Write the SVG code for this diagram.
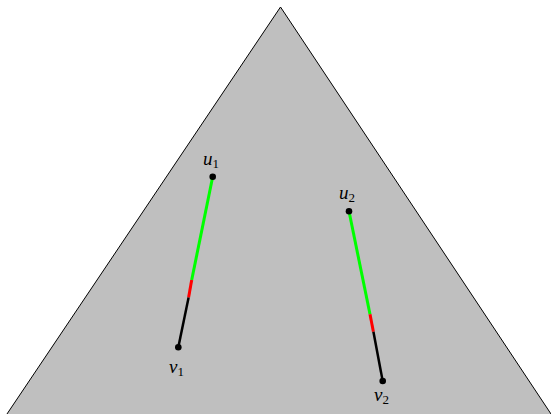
<svg xmlns="http://www.w3.org/2000/svg" width="551" height="414" viewBox="0 0 551 414">
<style>
.lbl{font-family:"Liberation Serif","DejaVu Serif",serif;font-style:italic;font-size:19px;fill:#000}
.sub{font-style:normal;font-size:13px}
.g{stroke:#00ff00;stroke-width:3;fill:none}
.r{stroke:#ff0000;stroke-width:3;fill:none}
.k{stroke:#000;stroke-width:2.5;fill:none}
</style>
<rect width="551" height="414" fill="#fff"/>
<g id="triangle"><polygon points="280.5,7 6.3,415 551.7,415" fill="#bfbfbf" stroke="#000" stroke-width="1"/></g>
<g id="connectors">
<line class="g" x1="212.7" y1="176.7" x2="191.7" y2="280"/>
<line class="r" x1="191.7" y1="280" x2="188.6" y2="297.5"/>
<line class="k" x1="188.6" y1="297.5" x2="178.3" y2="347.3"/>
<line class="g" x1="349" y1="211.3" x2="370" y2="314.3"/>
<line class="r" x1="370" y1="314.3" x2="373.4" y2="331.7"/>
<line class="k" x1="373.4" y1="331.7" x2="382.7" y2="381"/>
</g>
<g id="u1"><circle cx="212.7" cy="176.7" r="3.3"/><text class="lbl" x="203" y="165">u<tspan class="sub" dy="3">1</tspan></text></g>
<g id="v1"><circle cx="178.3" cy="347.3" r="3.3"/><text class="lbl" x="169" y="373">v<tspan class="sub" dy="3">1</tspan></text></g>
<g id="u2"><circle cx="349" cy="211.3" r="3.3"/><text class="lbl" x="339" y="199">u<tspan class="sub" dy="3">2</tspan></text></g>
<g id="v2"><circle cx="382.7" cy="381" r="3.3"/><text class="lbl" x="374" y="401">v<tspan class="sub" dy="3">2</tspan></text></g>
</svg>
